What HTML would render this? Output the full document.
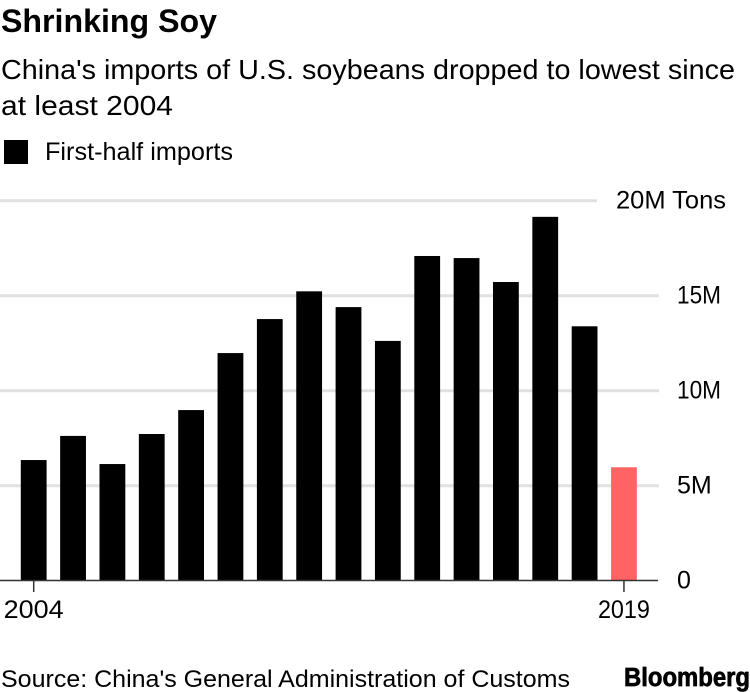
<!DOCTYPE html>
<html>
<head>
<meta charset="utf-8">
<style>
html,body{margin:0;padding:0;background:#fff;}
#root{position:relative;width:750px;height:692px;overflow:hidden;background:#fff;font-family:"Liberation Sans",sans-serif;color:#000;}
svg{position:absolute;left:0;top:0;}
text{font-family:"Liberation Sans",sans-serif;fill:#000;}
</style>
</head>
<body>
<div id="root">
<svg id="chart" width="750" height="692" viewBox="0 0 750 692">
  <text x="1" y="32" font-size="32" font-weight="700" textLength="216" lengthAdjust="spacingAndGlyphs">Shrinking Soy</text>
  <text x="1" y="79" font-size="27.5" textLength="734" lengthAdjust="spacingAndGlyphs">China's imports of U.S. soybeans dropped to lowest since</text>
  <text x="1" y="115" font-size="27.5" textLength="172" lengthAdjust="spacingAndGlyphs">at least 2004</text>
  <rect x="4" y="140" width="24" height="24" fill="#000"/>
  <text x="45" y="160" font-size="25" textLength="188" lengthAdjust="spacingAndGlyphs">First-half imports</text>
  <g id="grid"></g>
  <g id="bars"></g>
  <g id="axes"></g>
  <text x="1" y="687" font-size="24" textLength="569" lengthAdjust="spacingAndGlyphs">Source: China's General Administration of Customs</text>
  <text x="624" y="686" font-size="25.5" font-weight="700" textLength="126" lengthAdjust="spacingAndGlyphs" stroke="#000" stroke-width="0.7">Bloomberg</text>
</svg>
</div>
<script>
const years = [2004,2005,2006,2007,2008,2009,2010,2011,2012,2013,2014,2015,2016,2017,2018,2019];
const imports = [6.35,7.62,6.14,7.72,8.98,11.98,13.77,15.23,14.4,12.62,17.09,16.98,15.72,19.15,13.39,5.97];
const yTickValues = [0,5,10,15,20];
const yTickLabels = ['0','5M','10M','15M','20M Tons'];
const xTickYears = [2004,2019];

const NS = 'http://www.w3.org/2000/svg';
const y0 = 580.7, pxPerUnit = 19;
const firstCenter = 33.7, step = 39.35, barW = 25.8;
function yScale(v){ return y0 - v * pxPerUnit; }
function xScale(year){ return firstCenter + (year - years[0]) * step; }
function mk(tag, attrs, parent){
  const el = document.createElementNS(NS, tag);
  for (const k in attrs) el.setAttribute(k, attrs[k]);
  parent.appendChild(el);
  return el;
}
const gridG = document.getElementById('grid');
const barsG = document.getElementById('bars');
const axesG = document.getElementById('axes');

yTickValues.forEach(function(v, i){
  if (v !== 0) {
    const line = mk('line', {x1:0, x2: v === 20 ? 597 : 659, y1:yScale(v), y2:yScale(v), stroke:'#e1e1e1', 'stroke-width':3}, gridG);
    
    
  }
  const label = mk('text', {x: v === 20 ? 616 : 677, y:yScale(v) + 8, 'font-size':25}, axesG);
  if (v === 20) label.setAttribute('textLength', 110);
  if (v === 10 || v === 15) label.setAttribute('textLength', 44);
  if (v === 10 || v === 15 || v === 20) label.setAttribute('lengthAdjust', 'spacingAndGlyphs');
  label.textContent = yTickLabels[i];
  
  
});
years.forEach(function(yr, i){
  const top = yScale(imports[i]);
  const bar = mk('rect', {x:xScale(yr) - barW/2, y:top, width:barW, height:y0 - top, fill: yr === 2019 ? '#ff6363' : '#000'}, barsG);
  
  
});
const axisLine = mk('line', {x1:0, x2:658, y1:580.5, y2:580.5, stroke:'#333', 'stroke-width':1.5}, axesG);


xTickYears.forEach(function(yr){
  const tick = mk('line', {x1:xScale(yr), x2:xScale(yr), y1:580, y2:592, stroke:'#333', 'stroke-width':1.5}, axesG);
  
  
  const t = mk('text', {x:xScale(yr), y:618, 'font-size':25, 'text-anchor':'middle', textLength: yr === 2004 ? 60 : 52, lengthAdjust:'spacingAndGlyphs'}, axesG);
  t.textContent = String(yr);
  
  
});
</script>
</body>
</html>
